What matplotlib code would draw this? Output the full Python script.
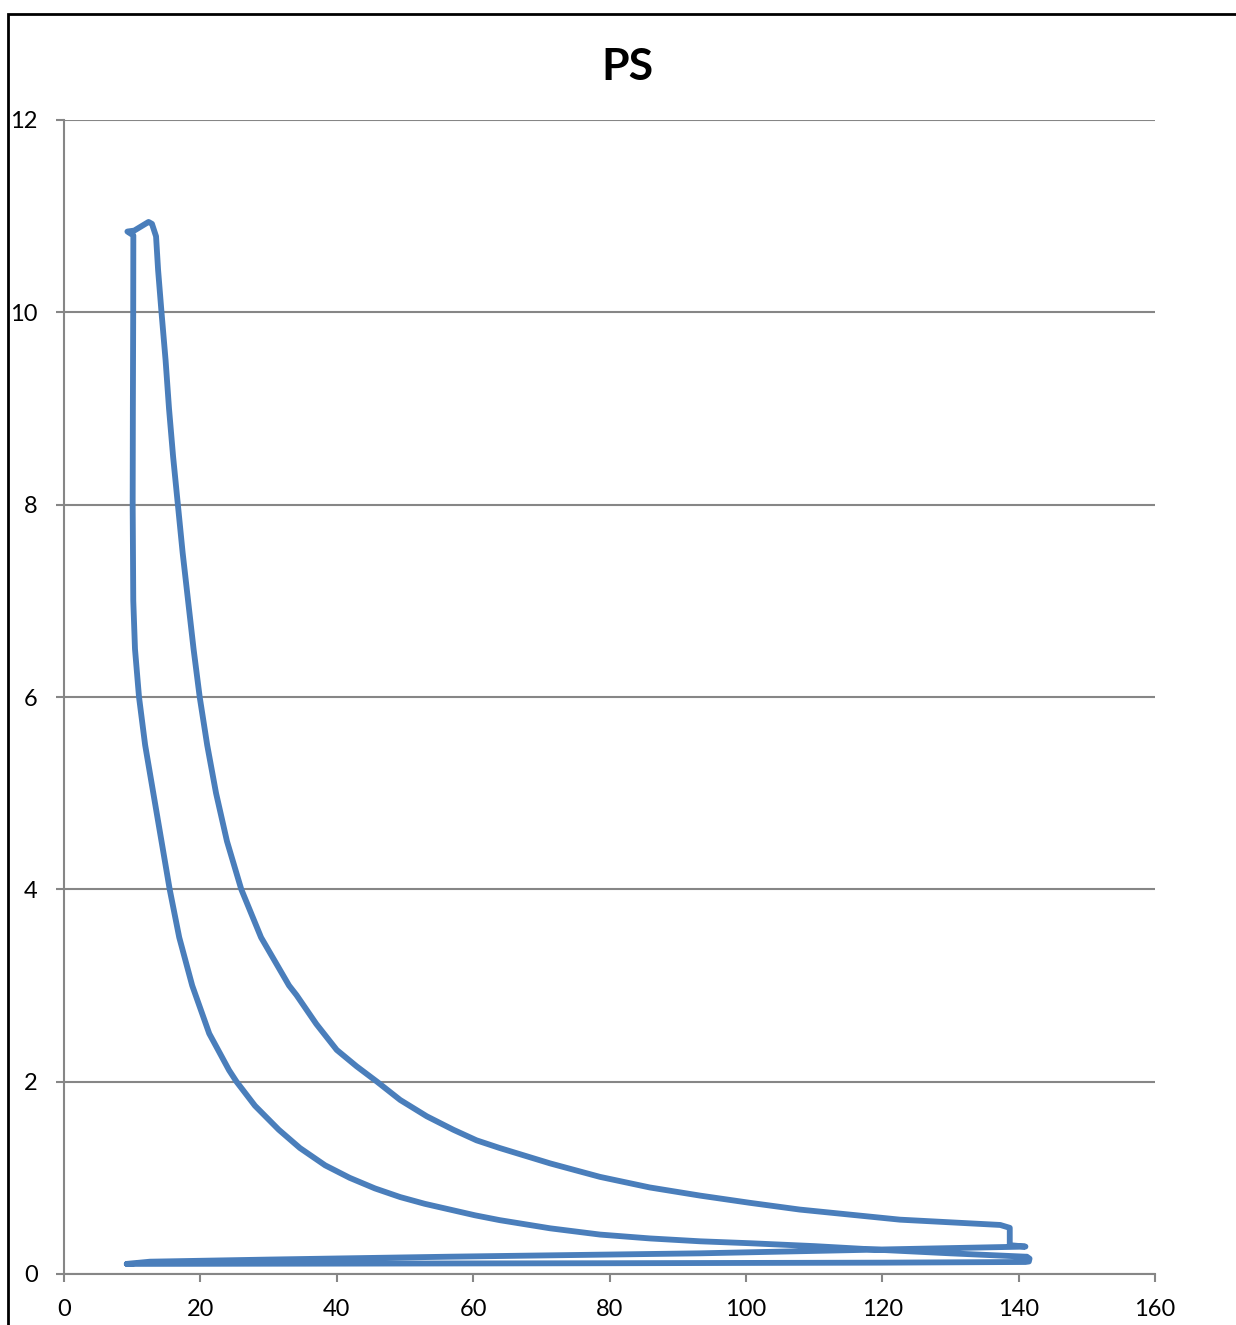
import matplotlib
matplotlib.use("Agg")
import matplotlib.pyplot as plt
from matplotlib.patches import Rectangle

plt.rcParams['font.family'] = ['Lato', 'DejaVu Sans']

# cycle: intake, compression, top, expansion, exhaust
intake_x = [9.2, 40, 80, 120, 141.0]
intake_y = [0.105, 0.108, 0.112, 0.118, 0.125]

loop_x = [141.5, 141.6, 141.2]
loop_y = [0.13, 0.16, 0.18]

comp_x = [141.0, 130, 120, 110, 100.6, 93.3, 85.9, 78.6, 71.3, 63.9, 60.3, 56.6,
          52.9, 49.3, 45.6, 41.9, 38.3, 34.6, 31.5, 28.0, 25.3, 24.2, 22.6,
          21.3, 18.8, 16.9, 15.5, 14.3, 13.1, 11.9, 11.0, 10.41, 10.16, 10.07,
          10.1, 10.15, 10.17]
comp_y = [0.18, 0.215, 0.25, 0.29, 0.32, 0.34, 0.37, 0.41, 0.475, 0.56, 0.61, 0.67,
          0.73, 0.80, 0.89, 1.0, 1.13, 1.31, 1.5, 1.75, 2.0, 2.12, 2.33,
          2.5, 3.0, 3.5, 4.0, 4.5, 5.0, 5.5, 6.0, 6.5, 7.0, 8.0,
          9.0, 10.0, 10.8]

top_x = [9.3, 10.3, 12.4, 12.9]
top_y = [10.84, 10.85, 10.94, 10.92]

exp_x = [13.5, 13.8, 14.3, 14.9, 15.4, 16.0, 16.7, 17.4, 18.2, 19.0, 19.9, 21.0,
         22.3, 23.9, 26.0, 28.9, 33.0, 34.1, 37.0, 40.0, 42.9, 45.9, 49.3,
         53.2, 57.1, 60.5, 63.9, 71.3, 78.6, 85.9, 93.3, 100.6, 107.9, 122.6,
         137.3, 138.7, 138.7, 141.0]
exp_y = [10.79, 10.44, 10.0, 9.5, 9.0, 8.5, 8.0, 7.5, 7.0, 6.5, 6.0, 5.5,
         5.0, 4.5, 4.0, 3.5, 3.0, 2.9, 2.6, 2.33, 2.16, 2.0, 1.81,
         1.64, 1.50, 1.39, 1.31, 1.15, 1.01, 0.90, 0.815, 0.74, 0.67, 0.565,
         0.51, 0.48, 0.30, 0.285]

exh_x = [120, 93.3, 56.6, 30, 12.6, 9.2]
exh_y = [0.255, 0.215, 0.18, 0.15, 0.128, 0.105]

xs = intake_x + loop_x + comp_x + top_x + exp_x + exh_x
ys = intake_y + loop_y + comp_y + top_y + exp_y + exh_y

fig = plt.figure(figsize=(12.36, 13.25), dpi=100)
ax = fig.add_axes([64/1236, 1-1274/1325, (1155-64)/1236, (1274-120)/1325])

grey = '#868686'
ax.plot(xs, ys, color='#4a7ebb', lw=4.2, solid_joinstyle='round',
        solid_capstyle='round', zorder=3)

ax.set_xlim(0, 160)
ax.set_ylim(0, 12)
ax.set_xticks(range(0, 161, 20))
ax.set_yticks(range(0, 13, 2))
ax.yaxis.grid(True, color=grey, lw=1.5)
ax.set_axisbelow(True)
for s in ['top', 'right']:
    ax.spines[s].set_visible(False)
for s in ['left', 'bottom']:
    ax.spines[s].set_color(grey)
    ax.spines[s].set_linewidth(1.5)
ax.tick_params(axis='both', direction='out', length=6, width=1.5, color=grey,
               labelsize=17, labelcolor='black')
ax.tick_params(axis='y', pad=13)
ax.tick_params(axis='x', pad=12)

fig.text(627/1236, 1-67/1325, 'PS', ha='center', va='center',
         fontsize=32, fontweight='bold')

# chart-area border, cut off at right and bottom
fig.patches.append(Rectangle((8/1236, -0.05), 1.2, 1-14/1325+0.05,
                             transform=fig.transFigure, fill=False,
                             edgecolor='black', lw=2))

fig.savefig('out.png', dpi=100)
